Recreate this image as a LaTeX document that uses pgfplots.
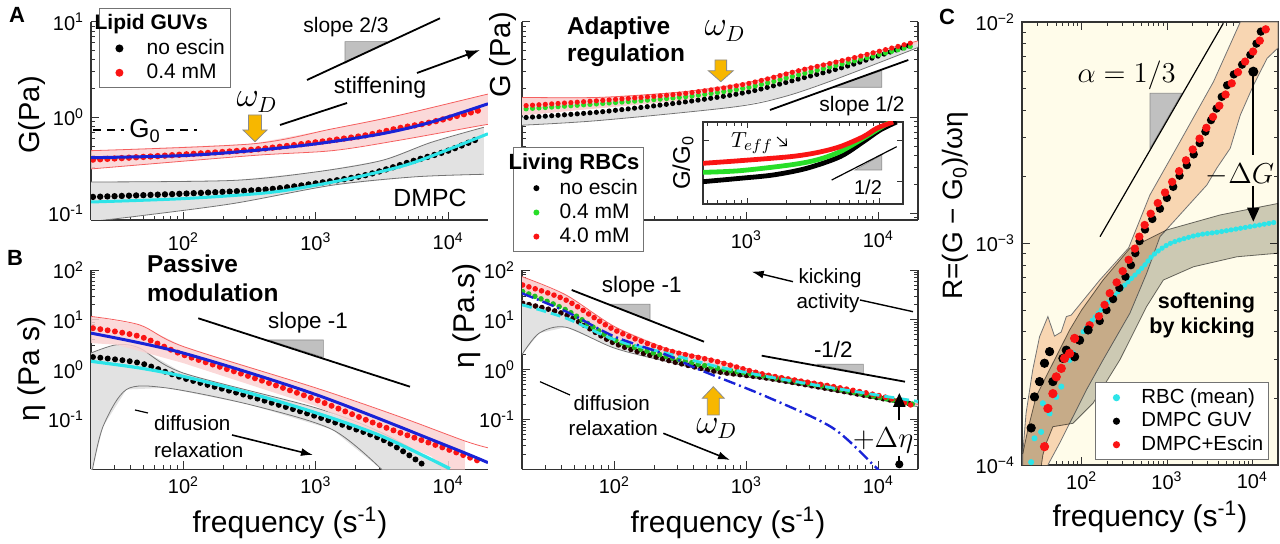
\documentclass[border=0pt]{standalone}
\usepackage{fontspec}
\setmainfont{Liberation Sans}
\usepackage{pgfplots}
\pgfplotsset{compat=1.18}
\usetikzlibrary{arrows.meta}

\definecolor{rband}{RGB}{250,210,210}
\definecolor{rline}{RGB}{245,95,95}
\definecolor{gband}{RGB}{226,226,226}
\definecolor{gline}{RGB}{115,115,115}
\definecolor{fitblue}{RGB}{25,35,215}
\definecolor{fitcyan}{RGB}{45,228,232}
\definecolor{dred}{RGB}{250,20,20}
\definecolor{dgreen}{RGB}{40,222,40}
\definecolor{warrow}{RGB}{247,183,0}
\definecolor{cream}{RGB}{255,252,234}
\definecolor{cband}{RGB}{248,214,178}
\definecolor{cgray}{RGB}{204,204,196}
\definecolor{tri}{RGB}{192,192,192}

\newcommand\ft[1]{\fontsize{#1}{#1}\selectfont}
% legend symbol: colour, dot position, dot radius, cell width
\newcommand\legdot[4]{\addlegendimage{legend image code/.code={\fill[#1, draw=none] (#2,0pt) circle (#3); \path[draw=none, fill=none] (0pt,0pt) -- (#4,0pt);}}}

\pgfplotsset{
  axcommon/.style={
    scale only axis, xmin=20, xmax=20000,
    tick label style={font=\ft{10}},
    xtick={100,1000,10000},
    xticklabels={10\textsuperscript{2},10\textsuperscript{3},10\textsuperscript{4}},
    minor xtick={20,30,40,50,60,70,80,90,200,300,400,500,600,700,800,900,2000,3000,4000,5000,6000,7000,8000,9000},
    legend cell align=left,
  },
  axlook/.style={
    tick align=inside,
    axis line style={-, black!80, line width=0.6pt},
    tick style={black!80, line width=0.45pt},
    major tick length=4pt, minor tick length=2.2pt,
  },
  dotser/.style n args={3}{forget plot, smooth, draw=#1, line width=#2, line cap=round, dash pattern=on 0pt off #3},
  fitln/.style 2 args={forget plot, smooth, draw=#1, line width=#2},
  bedge/.style={forget plot, smooth, line width=0.4pt},
}

\begin{document}
\begin{tikzpicture}
\useasboundingbox (0,0) rectangle (640pt,272pt);

% ---------------- A left: lipid GUVs, G
\begin{axis}[xmode=log, ymode=log, axcommon, at={(45.5pt,162pt)}, anchor=south west, width=198.5pt, height=99.15pt,
  ymin=0.085, ymax=10,
  axis x line=bottom, axis y line=left, axlook,
  ytick={0.1,1,10}, yticklabels={10\textsuperscript{-1},10\textsuperscript{0},10\textsuperscript{1}},
  minor ytick={0.09,0.2,0.3,0.4,0.5,0.6,0.7,0.8,0.9,2,3,4,5,6,7,8,9},
  xticklabel style={yshift=-3pt},
  legend style={at={(0.02,1.069)}, anchor=north west, font=\ft{10.5}, draw=black!55, line width=0.5pt, fill=white, inner xsep=1pt, inner ysep=1.5pt, nodes={inner sep=1.6pt, text depth=0.15em}},
]
\addplot[forget plot, fill=gband, draw=none] coordinates {(20,0.212)(235,0.22)(1000,0.27)(3160,0.356)(7450,0.55)(18600,0.79)(18600,0.255)(5630,0.24)(1327,0.196)(235,0.126)(41.5,0.092)(20,0.082)};
\addplot[bedge, draw=gline] coordinates {(20,0.212)(235,0.22)(1000,0.27)(3160,0.356)(7450,0.55)(18600,0.79)};
\addplot[bedge, draw=gline] coordinates {(20,0.082)(41.5,0.092)(235,0.126)(1327,0.196)(5630,0.24)(18600,0.255)};
\addplot[forget plot, fill=rband, fill opacity=0.85, draw=none] coordinates {(20,0.45)(330,0.53)(1327,0.76)(4207,1.05)(17800,1.69)(20000,1.75)(20000,0.84)(17800,0.825)(4207,0.576)(1327,0.45)(330,0.40)(20,0.29)};
\addplot[bedge, draw=rline] coordinates {(20,0.45)(330,0.53)(1327,0.76)(4207,1.05)(17800,1.69)(20000,1.75)};
\addplot[bedge, draw=rline] coordinates {(20,0.29)(330,0.40)(1327,0.45)(4207,0.576)(17800,0.825)(20000,0.84)};
\addplot[dotser={black}{3.2pt}{3.6pt}] coordinates {(20.7,0.148)(99,0.16)(419,0.177)(1000,0.205)(2375,0.25)(5630,0.356)(10000,0.45)(17800,0.62)};
\addplot[fitln={fitcyan}{1.5pt}] coordinates {(20,0.131)(99,0.142)(419,0.163)(1000,0.196)(2375,0.25)(5630,0.342)(20000,0.676)};
\addplot[dotser={dred}{3.2pt}{3.6pt}] coordinates {(20.7,0.363)(74,0.40)(330,0.46)(1000,0.55)(2375,0.65)(4200,0.77)(7400,0.89)(16800,1.18)};
\addplot[fitln={fitblue}{1.5pt}] coordinates {(20,0.38)(100,0.40)(330,0.45)(1000,0.53)(3160,0.676)(7450,0.894)(20000,1.39)};
\addlegendimage{empty legend}\addlegendentry{\makebox[0pt][l]{\hspace*{-26pt}\bfseries Lipid GUVs}}
\legdot{black}{9pt}{2pt}{21pt}\addlegendentry{no escin}
\legdot{dred}{9pt}{2pt}{21pt}\addlegendentry{0.4 mM}
\end{axis}

% ---------------- A right: living RBCs, G
\begin{axis}[xmode=log, ymode=log, axcommon, at={(261pt,162pt)}, anchor=south west, width=198pt, height=99.15pt,
  ymin=0.085, ymax=10,
  axis x line=bottom, axis y line=box, axlook,
  xticklabels={{},10\textsuperscript{3},10\textsuperscript{4}},
  ytick={0.1,1,10}, yticklabels={},
  minor ytick={0.09,0.2,0.3,0.4,0.5,0.6,0.7,0.8,0.9,2,3,4,5,6,7,8,9},
  xticklabel style={yshift=-2pt},
  legend style={at={(-0.023,0.368)}, anchor=north west, font=\ft{10.5}, draw=black!55, line width=0.5pt, fill=white, inner xsep=1pt, inner ysep=1.5pt, nodes={inner sep=1.6pt, text depth=0.15em}},
]
\addplot[forget plot, fill=gband, draw=none] coordinates {(20,1.0)(77,1.14)(327,1.44)(1000,1.83)(2520,2.53)(6000,3.48)(20000,6.0)(20000,5.5)(18800,5.2)(4480,2.43)(1884,1.63)(783,1.28)(77,0.93)(20,0.83)};
\addplot[bedge, draw=gline] coordinates {(20,0.83)(77,0.93)(783,1.28)(1884,1.63)(4480,2.43)(18800,5.2)(20000,5.5)};
\addplot[forget plot, fill=rband, draw=none] coordinates {(20,1.62)(77,1.62)(327,1.85)(1000,2.3)(2520,3.15)(6000,4.15)(20000,6.3)(20000,5.9)(6000,3.6)(2520,2.6)(1000,1.9)(327,1.5)(20,1.05)};
\addplot[bedge, draw=rline] coordinates {(20,1.62)(77,1.62)(327,1.85)(1000,2.3)(2520,3.15)(6000,4.15)(20000,6.3)};
\addplot[dotser={black}{2.6pt}{3.2pt}] coordinates {(21.5,1.0)(77,1.14)(327,1.44)(1000,1.83)(2520,2.53)(6000,3.48)(18600,5.85)};
\addplot[dotser={dgreen}{2.6pt}{3.2pt}] coordinates {(21.5,1.23)(77,1.39)(327,1.63)(1000,2.04)(2520,2.8)(6000,3.77)(18600,5.62)};
\addplot[dotser={dred}{2.6pt}{3.2pt}] coordinates {(21.5,1.33)(77,1.5)(327,1.77)(1000,2.24)(2520,3.09)(6000,4.08)(18600,6.1)};
\addlegendimage{empty legend}\addlegendentry{\makebox[0pt][l]{\hspace*{-25.5pt}\ft{11}\bfseries Living RBCs}}
\legdot{black}{10.5pt}{1.5pt}{20.5pt}\addlegendentry{no escin}
\legdot{dgreen}{10.5pt}{1.5pt}{20.5pt}\addlegendentry{0.4 mM}
\legdot{dred}{10.5pt}{1.5pt}{20.5pt}\addlegendentry{4.0 mM}
\end{axis}

% ---------------- inset G/G0
\begin{axis}[scale only axis, at={(351.5pt,170pt)}, anchor=south west, width=100pt, height=41pt,
  xmode=log, xmin=464, xmax=15200, ymin=0, ymax=1, axlook,
  major tick length=3pt, minor tick length=1.8pt,
  axis background/.style={fill=white},
  xtick={1000,10000}, xticklabels={},
  minor xtick={500,600,700,800,900,2000,3000,4000,5000,6000,7000,8000,9000},
  ytick={0.27,0.78}, yticklabels={},
]
\addplot[smooth, draw=black, line width=2.4pt] coordinates {(464,0.272)(885,0.313)(1583,0.354)(2830,0.435)(5070,0.577)(7610,0.760)(10200,0.902)(13600,1.0)};
\addplot[smooth, draw=dgreen, line width=2.4pt] coordinates {(464,0.386)(885,0.406)(2120,0.476)(3375,0.537)(5070,0.638)(7610,0.801)(9610,0.902)(12100,1.0)};
\addplot[smooth, draw=dred, line width=2.4pt] coordinates {(464,0.496)(885,0.528)(2120,0.577)(3375,0.626)(5070,0.699)(7610,0.821)(9610,0.923)(12800,1.0)};
\end{axis}

% ---------------- B left: lipid GUVs, eta
\begin{axis}[xmode=log, ymode=log, axcommon, at={(45.5pt,37.35pt)}, anchor=south west, width=198.5pt, height=99.65pt,
  ymin=0.01, ymax=100,
  axis x line=bottom, axis y line=left, axlook,
  ytick={0.1,1,10,100}, yticklabels={10\textsuperscript{-1},10\textsuperscript{0},10\textsuperscript{1},10\textsuperscript{2}},
  minor ytick={0.02,0.03,0.04,0.05,0.06,0.07,0.08,0.09,0.2,0.3,0.4,0.5,0.6,0.7,0.8,0.9,2,3,4,5,6,7,8,9,20,30,40,50,60,70,80,90},
]
\addplot[forget plot, fill=gband, draw=none] coordinates {(20,2.16)(31.2,3.16)(46.6,2.71)(99,0.86)(1000,0.171)(3160,0.054)(10000,0.0098)(3160,0.0098)(1327,0.063)(313,0.2)(74.1,0.43)(37.1,0.4)(24.7,0.073)(20.5,0.0098)(20,0.0098)};
\addplot[bedge, draw=gline] coordinates {(20,2.16)(31.2,3.16)(46.6,2.71)(99,0.86)(1000,0.171)(3160,0.054)(10000,0.0098)};
\addplot[bedge, draw=gline] coordinates {(20.5,0.0098)(24.7,0.073)(37.1,0.4)(74.1,0.43)(313,0.2)(1327,0.063)(3160,0.0098)};
\addplot[forget plot, fill=rband, fill opacity=0.85, draw=none] coordinates {(20,11.7)(46.6,7.9)(99,2.93)(1000,0.43)(4207,0.116)(13370,0.037)(13370,0.0098)(8920,0.0098)(7500,0.018)(3160,0.046)(1000,0.185)(99,1.36)(31.2,3.16)(20,3.42)};
\addplot[bedge, draw=rline] coordinates {(20,11.7)(46.6,7.9)(99,2.93)(1000,0.43)(4207,0.116)(13370,0.037)(20000,0.027)};
\addplot[dotser={black}{3pt}{3.7pt}] coordinates {(20.7,1.79)(46.6,1.36)(99,0.68)(313,0.293)(1000,0.116)(3160,0.04)(6670,0.0117)};
\addplot[fitln={fitcyan}{1.6pt}] coordinates {(20,1.47)(46.6,1.08)(99,0.735)(313,0.34)(1000,0.136)(3160,0.046)(10300,0.0103)};
\addplot[dotser={dred}{3pt}{3.7pt}] coordinates {(20.7,6.8)(46.6,4.64)(99,2.0)(313,0.735)(1000,0.25)(3160,0.0735)(10000,0.025)(18300,0.0136)};
\addplot[fitln={fitblue}{1.5pt}] coordinates {(20,5.4)(99,2.16)(1000,0.316)(10000,0.029)(20000,0.0136)};
\end{axis}

% ---------------- B right: living RBCs, eta
\begin{axis}[xmode=log, ymode=log, axcommon, at={(261pt,37.35pt)}, anchor=south west, width=198pt, height=99.65pt,
  ymin=0.01, ymax=100,
  axis x line=bottom, axis y line=box, axlook,
  ytick={0.1,1,10,100}, yticklabels={10\textsuperscript{-1},10\textsuperscript{0},10\textsuperscript{1},10\textsuperscript{2}},
  minor ytick={0.02,0.03,0.04,0.05,0.06,0.07,0.08,0.09,0.2,0.3,0.4,0.5,0.6,0.7,0.8,0.9,2,3,4,5,6,7,8,9,20,30,40,50,60,70,80,90},
]
\addplot[forget plot, fill=gband, draw=none] coordinates {(20,25)(43,13)(100,4.2)(246,2.0)(590,1.1)(1410,0.72)(4500,0.42)(20000,0.21)(20000,0.18)(4500,0.37)(1410,0.63)(590,0.86)(246,1.47)(100,2.71)(43,7.1)(27,5.4)(20,2.0)};
\addplot[bedge, draw=gline] coordinates {(20,2.0)(27,5.4)(43,7.1)(100,2.71)(246,1.47)(590,0.86)(1410,0.63)(4500,0.37)(20000,0.18)};
\addplot[forget plot, fill=rband, draw=none] coordinates {(20,73.6)(43,31.6)(100,7.36)(246,2.7)(590,1.55)(1410,0.83)(4500,0.48)(20000,0.2)(20000,0.19)(4500,0.43)(1410,0.735)(590,1.08)(246,1.85)(100,4)(43,15.8)(20,36.9)};
\addplot[bedge, draw=rline] coordinates {(20,73.6)(43,31.6)(100,7.36)(246,2.7)(590,1.55)(1410,0.83)(4500,0.48)(20000,0.2)};
\addplot[dotser={black!85!red}{2.8pt}{3.3pt}] coordinates {(20.2,21.5)(43,12.6)(100,3.4)(246,1.58)(590,0.92)(1410,0.68)(4500,0.4)(18700,0.2)};
\addplot[dotser={dgreen!85!black}{2.8pt}{3.3pt}] coordinates {(20.2,36.9)(43,15.8)(100,4)(246,1.85)(590,1.08)(1410,0.735)(4500,0.43)(18700,0.2)};
\addplot[dotser={dred}{2.8pt}{3.3pt}] coordinates {(20.2,50)(43,25)(100,6.3)(246,2.5)(590,1.47)(1410,0.79)(4500,0.46)(10800,0.29)(18700,0.185)};
\addplot[forget plot, smooth, draw=fitcyan, line width=1.4pt, dash pattern=on 5pt off 2.5pt] coordinates {(20,20)(43,10.8)(100,4)(246,2.15)(590,1.17)(1410,0.735)(4500,0.43)(20000,0.23)};
\addplot[forget plot, smooth, draw=fitblue, line width=1.2pt, dash pattern=on 6pt off 2pt on 1pt off 2pt] coordinates {(20,34)(43,14.7)(100,4.64)(246,2.0)(441,1.0)(1410,0.29)(4500,0.068)(9340,0.0117)(9900,0.0098)};
\end{axis}

% ---------------- C: R = (G-G0)/(omega eta)
\begin{axis}[xmode=log, ymode=log, axcommon, at={(511pt,39.5pt)}, anchor=south west, width=128pt, height=221.5pt,
  ymin=1e-4, ymax=1e-2, axlook,
  axis background/.style={fill=cream},
  ytick={1e-4,1e-3,1e-2}, yticklabels={10\textsuperscript{−4},10\textsuperscript{−3},10\textsuperscript{−2}},
  minor ytick={2e-4,3e-4,4e-4,5e-4,6e-4,7e-4,8e-4,9e-4,2e-3,3e-3,4e-3,5e-3,6e-3,7e-3,8e-3,9e-3},
  legend style={at={(0.285,0.011)}, anchor=south west, font=\ft{10.2}, draw=black!55, line width=0.5pt, fill=white, inner xsep=1pt, inner ysep=1.5pt, nodes={inner sep=1.5pt, text depth=0.15em}},
]
\addplot[forget plot, fill=cband, draw=gline, line width=0.4pt] coordinates {
 (20.4,1e-4)(20.4,1.122e-4)(22.3,1.710e-4)(26.7,2.685e-4)(32.1,3.793e-4)(40.2,4.677e-4)(48.1,3.819e-4)
 (57.5,3.981e-4)(66.1,4.677e-4)(75.5,4.753e-4)(163,6.839e-4)(355,9.55e-4)(631,1.656e-3)(1422,2.884e-3)
 (3508,5.376e-3)(7228,1e-2)(20000,1e-2)(20000,7.64e-3)(14890,6.855e-3)(10350,5.20e-3)(7228,3.80e-3)
 (5508,2.69e-3)(3837,2.19e-3)(2931,1.837e-3)(1300,1.30e-3)(828,1.074e-3)(577,7.33e-4)(367,4.84e-4)
 (178,2.98e-4)(113.5,2.18e-4)(79.1,1.652e-4)(55.1,1.253e-4)(40.2,1e-4)};
\addplot[forget plot, fill=cgray, draw=gline, line width=0.4pt, blend mode=multiply] coordinates {
 (20.4,1.122e-4)(23.4,1.445e-4)(29.3,2.042e-4)(46.0,2.884e-4)(72.4,4.074e-4)(100,5.012e-4)(178,6.839e-4)
 (367,9.51e-4)(991,1.151e-3)(4207,1.346e-3)(20000,1.517e-3)(20000,9.04e-4)(6607,8.71e-4)(2042,7.85e-4)
 (906,6.84e-4)(577,5.19e-4)(280,2.98e-4)(136,1.901e-4)(79.1,1.542e-4)(46.0,1.489e-4)(38.4,1.253e-4)
 (35.1,1.109e-4)(33.1,9.5e-5)(20.4,9.5e-5)};
% RBC mean
\addplot[forget plot, only marks, mark=*, mark size=1.3pt, mark options={draw=fitcyan, fill=fitcyan}] coordinates {
 (25.6,1.03e-4)(28.0,1.32e-4)(33.5,1.41e-4)(35.1,1.90e-4)(42.1,1.71e-4)(50.4,2.03e-4)(57.7,2.26e-4)(72.3,2.98e-4)(79.1,3.2e-4)};
\addplot[dotser={fitcyan}{2.6pt}{2.4pt}] coordinates {
 (104,4.0e-4)(156,4.84e-4)(234,5.75e-4)(367,6.84e-4)(527,7.85e-4)(690,8.87e-4)(1084,1.0e-3)(2233,1.09e-3)(4207,1.13e-3)(20000,1.253e-3)};
% DMPC GUV
\addplot[forget plot, only marks, mark=*, mark size=2.1pt, mark options={draw=black, fill=black}] coordinates {
 (25.6,1.47e-4)(28,2.03e-4)(32.1,2.38e-4)(36.7,2.88e-4)(42.1,3.25e-4)(46,2.38e-4)(60.3,3.03e-4)(66.1,3.30e-4)(82.7,3.08e-4)(94.6,3.66e-4)(119,4.07e-4)};
\addplot[dotser={black}{4.2pt}{6.4pt}] coordinates {
 (163,4.47e-4)(234,5.62e-4)(367,7.76e-4)(527,1.12e-3)(906,1.51e-3)(1422,2.04e-3)(2042,2.51e-3)(3508,3.80e-3)(5508,5.50e-3)(9460,7.10e-3)(11860,8.43e-3)(13490,1.0e-2)};
% DMPC + escin
\addplot[forget plot, only marks, mark=*, mark size=2.1pt, mark options={draw=dred, fill=dred}] coordinates {
 (36.7,1.21e-4)(40.2,1.8e-4)(46,2.1e-4)(50.4,2.5e-4)(57.7,2.73e-4)(63.1,3.03e-4)(72.3,3.19e-4)(82.7,3.73e-4)};
\addplot[dotser={dred}{4.2pt}{6.4pt}] coordinates {
 (124,4.28e-4)(163,4.75e-4)(213,5.96e-4)(267,6.84e-4)(336,8.13e-4)(421,9.5e-4)(481,1.09e-3)(631,1.346e-3)(906,1.656e-3)(1300,2.04e-3)(2042,2.69e-3)(3206,3.55e-3)(4603,4.53e-3)(7228,6.18e-3)(10840,7.6e-3)(14220,9.2e-3)(16000,1.0e-2)};
\legdot{fitcyan}{9.5pt}{1.8pt}{20.5pt}\addlegendentry{RBC (mean)}
\legdot{black}{9.5pt}{1.8pt}{20.5pt}\addlegendentry{DMPC GUV}
\legdot{dred}{9.5pt}{1.8pt}{20.5pt}\addlegendentry{DMPC+Escin}
\end{axis}

% ---------------- annotations (pixel coordinates, y downwards)
\begin{scope}[shift={(0pt,272pt)}, x=0.5pt, y=-0.5pt]
\node[font=\ft{11}\bfseries] at (17,15) {A};
\node[font=\ft{11}\bfseries] at (15,258) {B};
\node[font=\ft{11}\bfseries] at (947,17) {C};

% A left
\node[rotate=90, font=\ft{14.5}] at (32,115) {G(Pa)};
\draw[line width=0.6pt, dash pattern=on 4pt off 3pt] (93,130) -- (124,130);
\draw[line width=0.6pt, dash pattern=on 4pt off 3pt] (166,130) -- (197,130);
\node[font=\ft{13}] at (145,131) {G\textsubscript{0}};
\filldraw[fill=warrow, draw=black!45, line width=0.4pt] (248.5,115) -- (261.5,115) -- (261.5,130) -- (267,130) -- (255,141.7) -- (243,130) -- (248.5,130) -- cycle;
\node[font=\ft{16}] at (257,102) {$\omega_D$};
\filldraw[fill=tri, draw=black!45, line width=0.3pt] (345,63.3) -- (345,41.7) -- (386.7,41.7) -- cycle;
\draw[line width=0.9pt] (307,80) -- (440,18.3);
\node[font=\ft{10.5}] at (346,27) {slope 2/3};
\draw[line width=0.9pt] (280,125) -- (347,103);
\node[font=\ft{11.6}] at (380,88) {stiffening};
\draw[line width=0.9pt, -{Latex[length=7pt,width=5pt]}] (417,73) -- (480,50);
\node[font=\ft{12.4}] at (430,198) {DMPC};

% A right
\node[rotate=90, font=\ft{14.5}] at (503,55) {G (Pa)};
\node[font=\ft{12.2}\bfseries, anchor=base west] at (560,35) {Adaptive};
\node[font=\ft{12.2}\bfseries, anchor=base west] at (560,61.7) {regulation};
\filldraw[fill=warrow, draw=black!45, line width=0.4pt] (715,60) -- (726.6,60) -- (726.6,70.7) -- (733.3,70.7) -- (720.8,81.7) -- (708.3,70.7) -- (715,70.7) -- cycle;
\node[font=\ft{16}] at (725,31) {$\omega_D$};
\filldraw[fill=tri, draw=black!45, line width=0.3pt] (833.3,87.3) -- (881.7,87.3) -- (881.7,70.7) -- cycle;
\draw[line width=0.9pt] (770,110) -- (908.3,60);
\node[font=\ft{10.5}] at (862,106) {slope 1/2};
\node[rotate=90, font=\ft{12}] at (683,163) {G/G\textsubscript{0}};
\node[font=\ft{11}] at (752,143) {$T_{eff}$};
\draw[line width=0.5pt, -{Straight Barb[length=2.5pt]}] (777,137) -- (787,146);
\filldraw[fill=tri, draw=black!45, line width=0.3pt] (855,170) -- (881.7,170) -- (881.7,155) -- cycle;
\draw[line width=0.6pt] (831.7,180) -- (896.7,146.7);
\node[font=\ft{10}] at (868,187) {1/2};

% B left
\node[rotate=90, font=\ft{15}] at (32,369) {η (Pa s)};
\node[font=\ft{15}] at (290,523) {frequency (s\textsuperscript{-1})};
\node[font=\ft{12.2}\bfseries, anchor=base west] at (140,272.7) {Passive};
\node[font=\ft{12.2}\bfseries, anchor=base west] at (140,301.7) {modulation};
\filldraw[fill=tri, draw=black!45, line width=0.3pt] (268.3,340) -- (323.3,340) -- (323.3,357.3) -- cycle;
\draw[line width=0.9pt] (198.3,318.3) -- (410,386.7);
\node[font=\ft{11.2}] at (308,323) {slope -1};
\draw[line width=0.6pt] (135,410) -- (148,413);
\node[font=\ft{10.3}, anchor=west] at (147,423) {diffusion};
\node[font=\ft{10.3}, anchor=west] at (147,450) {relaxation};
\draw[line width=0.8pt, -{Latex[length=6pt,width=4pt]}] (232,435) -- (313,455);

% B right
\node[rotate=90, font=\ft{15}] at (467,316) {η (Pa.s)};
\node[font=\ft{15}] at (728,523) {frequency (s\textsuperscript{-1})};
\filldraw[fill=tri, draw=black!45, line width=0.3pt] (610,304.3) -- (650,304.3) -- (650,320) -- cycle;
\draw[line width=0.9pt] (571.7,290) -- (704,341.7);
\node[font=\ft{11.2}] at (641.7,286.7) {slope -1};
\filldraw[fill=tri, draw=black!45, line width=0.3pt] (816.7,364.3) -- (863.3,364.3) -- (863.3,373.3) -- cycle;
\draw[line width=0.9pt] (761.7,355.7) -- (905,381.7);
\node[font=\ft{11.2}] at (833.3,350) {-1/2};
\node[font=\ft{10.3}] at (830,278) {kicking};
\node[font=\ft{10.3}] at (828,303) {activity};
\draw[line width=0.7pt, -{Latex[length=6pt,width=4pt]}] (793,281.7) -- (751.7,271.7);
\draw[line width=0.7pt] (860,300) -- (913,311.7);
\draw[line width=0.6pt] (540,381.7) -- (570,395);
\node[font=\ft{10.3}] at (611.7,403.3) {diffusion};
\node[font=\ft{10.3}] at (613.3,428.3) {relaxation};
\draw[line width=0.8pt, -{Latex[length=6pt,width=4pt]}] (663.3,433.3) -- (730,460);
\filldraw[fill=warrow, draw=black!45, line width=0.4pt] (707.3,415) -- (719.3,415) -- (719.3,398.3) -- (724.3,398.3) -- (713.3,386.7) -- (702.3,398.3) -- (707.3,398.3) -- cycle;
\node[font=\ft{16}] at (716.7,428.3) {$\omega_D$};
\draw[line width=1pt, {Circle[length=4pt]}-] (899.3,468.3) -- (899.3,456);
\draw[line width=1pt, -{Triangle[length=7pt,width=6pt]}] (899.3,420) -- (899.3,393);
\node[font=\ft{14}] at (883,440) {$+\Delta\eta$};

% C
\node[rotate=90, font=\ft{14}] at (955,206) {R=(G − G\textsubscript{0})/ωη};
\node[font=\ft{15}] at (1150,516.7) {frequency (s\textsuperscript{-1})};
\filldraw[fill=tri, draw=black!45, line width=0.3pt] (1150,93.3) -- (1181.7,93.3) -- (1150,148.3) -- cycle;
\draw[line width=0.6pt] (1100,236.7) -- (1223.3,23.3);
\node[font=\ft{14.6}] at (1126.7,75) {$\alpha=1/3$};
\draw[line width=1pt, {Circle[length=5pt]}-] (1253.3,66.7) -- (1253.3,155);
\node[font=\ft{13.5}] at (1240,175) {$-\Delta G$};
\draw[line width=1pt, -{Triangle[length=7pt,width=6pt]}] (1253.3,186) -- (1253.3,221.7);
\node[font=\ft{10.8}\bfseries, anchor=east] at (1262,303.3) {softening};
\node[font=\ft{10.8}\bfseries, anchor=east] at (1262,328) {by kicking};
\end{scope}
\end{tikzpicture}
\end{document}
